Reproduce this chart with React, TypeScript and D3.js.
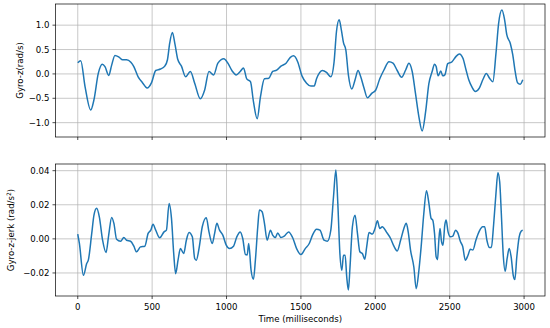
import React from 'react';
import * as d3 from 'd3';

// gyro-z (time in ms, value in rad/s)
const gyroTimes = [0, 20, 49, 87, 109, 138, 165, 183, 208, 228, 250, 279, 301, 328, 357, 377, 406, 435, 466, 496, 524, 556, 585, 603, 618, 636, 654, 672, 697, 725, 757, 786, 824, 853, 882, 913, 942, 982, 1009, 1038, 1065, 1092, 1114, 1136, 1161, 1181, 1206, 1228, 1255, 1284, 1310, 1337, 1366, 1400, 1429, 1451, 1478, 1507, 1538, 1567, 1589, 1605, 1645, 1672, 1701, 1723, 1739, 1757, 1772, 1786, 1802, 1819, 1842, 1864, 1884, 1902, 1924, 1947, 1976, 2003, 2030, 2058, 2092, 2119, 2147, 2177, 2204, 2226, 2248, 2270, 2293, 2315, 2338, 2360, 2382, 2398, 2409, 2422, 2440, 2453, 2467, 2487, 2516, 2543, 2565, 2589, 2610, 2628, 2650, 2672, 2699, 2724, 2746, 2768, 2790, 2811, 2829, 2851, 2869, 2884, 2907, 2924, 2940, 2956, 2974, 2991];
const gyroValues = [0.23, 0.27, -0.26, -0.74, -0.53, 0.01, 0.2, 0.15, -0.03, 0.18, 0.38, 0.34, 0.29, 0.29, 0.24, 0.15, -0.06, -0.18, -0.29, -0.18, 0.07, 0.1, 0.16, 0.29, 0.63, 0.85, 0.6, 0.3, 0.16, -0.06, 0.05, -0.19, -0.51, -0.33, 0.05, -0.02, 0.22, 0.31, 0.22, 0.06, -0.02, 0.05, 0.12, -0.1, -0.16, -0.57, -0.92, -0.47, -0.1, -0.09, 0.05, 0.08, 0.16, 0.22, 0.34, 0.37, 0.25, -0.04, -0.19, -0.25, -0.25, -0.1, 0.07, 0.03, -0.06, 0.25, 0.87, 1.11, 0.9, 0.64, 0.49, -0.02, -0.31, -0.12, 0.07, -0.06, -0.29, -0.49, -0.4, -0.33, -0.1, 0.08, 0.25, 0.22, 0.07, -0.07, 0.08, 0.22, 0.05, -0.4, -0.88, -1.17, -0.78, -0.2, 0.05, 0.2, 0.15, -0.04, 0.06, -0.04, -0.02, 0.21, 0.25, 0.36, 0.41, 0.32, 0.08, -0.12, -0.27, -0.36, -0.29, -0.11, 0.01, -0.09, -0.16, 0.42, 1.04, 1.31, 1.11, 0.8, 0.63, 0.39, 0.05, -0.18, -0.21, -0.12];

// gyro-z jerk (rad/s^2)
const jerkTimes = [0, 11, 38, 60, 71, 94, 109, 127, 145, 167, 190, 208, 228, 243, 261, 288, 310, 328, 355, 377, 395, 422, 451, 473, 491, 506, 524, 551, 580, 596, 614, 630, 645, 658, 674, 690, 712, 730, 748, 770, 786, 797, 815, 837, 864, 882, 904, 920, 935, 953, 975, 998, 1020, 1047, 1069, 1092, 1109, 1127, 1139, 1149, 1165, 1181, 1194, 1210, 1221, 1239, 1255, 1273, 1295, 1310, 1328, 1344, 1366, 1388, 1417, 1444, 1471, 1500, 1529, 1556, 1578, 1605, 1628, 1656, 1678, 1701, 1719, 1735, 1748, 1762, 1775, 1786, 1797, 1808, 1819, 1830, 1846, 1864, 1880, 1896, 1913, 1929, 1942, 1958, 1980, 1998, 2014, 2030, 2047, 2074, 2103, 2125, 2147, 2170, 2192, 2208, 2221, 2237, 2259, 2275, 2293, 2308, 2326, 2344, 2360, 2375, 2386, 2398, 2409, 2418, 2427, 2435, 2445, 2455, 2467, 2476, 2489, 2505, 2521, 2539, 2556, 2572, 2587, 2605, 2623, 2639, 2656, 2676, 2699, 2721, 2735, 2750, 2767, 2780, 2795, 2811, 2824, 2836, 2847, 2860, 2873, 2886, 2900, 2913, 2927, 2938, 2951, 2967, 2980, 2991];
const jerkValues = [0.0028, -0.0027, -0.0214, -0.0145, -0.0125, 0.0032, 0.0139, 0.0179, 0.0129, -0.0008, -0.008, 0.0022, 0.0126, 0.0091, -0.0002, -0.0014, 0.0008, -0.0008, -0.0014, -0.0043, -0.0076, -0.0047, -0.0043, 0.0032, 0.0051, 0.0086, 0.0051, 0.0006, 0.0041, 0.0051, 0.0208, 0.012, -0.0086, -0.0204, -0.0125, -0.0057, -0.0086, -0.0008, 0.0037, 0.0012, -0.0115, -0.0125, -0.0057, 0.0071, 0.0124, 0.0041, -0.0027, 0.0032, 0.0091, 0.0051, 0.0022, -0.0037, -0.0057, -0.0043, 0.0012, 0.0041, 0.0002, -0.0092, -0.0094, -0.0027, -0.0184, -0.0237, -0.0125, 0.0071, 0.0169, 0.0159, 0.0091, -0.0008, 0.0051, 0.0022, 0.0008, 0.0035, 0.0008, 0.0016, 0.0041, 0.0008, -0.0057, -0.0092, -0.0057, -0.0027, 0.0022, 0.0057, 0.0051, -0.0008, -0.0014, 0.0051, 0.0247, 0.0404, 0.0208, -0.0086, -0.0184, -0.0096, -0.0096, -0.0224, -0.03, -0.0165, 0.0071, 0.0139, 0.0032, -0.0076, -0.0086, -0.012, -0.0047, 0.0037, 0.0028, 0.0061, 0.0106, 0.0061, 0.0071, 0.0041, 0.0002, -0.0043, -0.0071, -0.0008, 0.0061, 0.0091, 0.0041, -0.0067, -0.0165, -0.0292, -0.0184, -0.0047, 0.0149, 0.0282, 0.021, 0.012, 0.011, 0.0032, -0.0106, -0.0122, -0.0008, 0.0061, -0.0016, -0.0037, 0.0081, 0.011, 0.0041, 0.0012, 0.0016, 0.0051, 0.0032, -0.0016, -0.0043, -0.0125, -0.0096, -0.0061, -0.0065, -0.0008, 0.0045, 0.0071, 0.0071, -0.0008, -0.0051, -0.0051, 0.0081, 0.0267, 0.0388, 0.0335, 0.0149, -0.0096, -0.019, -0.0115, -0.0057, -0.0106, -0.0214, -0.0239, -0.0106, 0.0012, 0.0045, 0.0051];

const xTicks = [0, 500, 1000, 1500, 2000, 2500, 3000];
const gyroTicks = [-1.0, -0.5, 0.0, 0.5, 1.0];
const jerkTicks = [-0.02, 0.0, 0.02, 0.04];

const W = 550;
const H = 328;
const left = 55.5;
const right = 545;
const FONT = 'DejaVu Sans, sans-serif';
const FS = 8.6;
const BLUE = '#1f77b4';

// matplotlib-style 5% padding
function padded(lo: number, hi: number): [number, number] {
  const r = hi - lo;
  return [lo - 0.05 * r, hi + 0.05 * r];
}

const fmt = (v: number, d: number) => v.toFixed(d).replace('-', '\u2212');

type PanelProps = {
  times: number[];
  values: number[];
  ticks: number[];
  digits: number;
  top: number;
  bottom: number;
  showXLabels: boolean;
};

const x = d3.scaleLinear()
  .domain(padded(d3.min(gyroTimes)!, d3.max(gyroTimes)!))
  .range([left, right]);

function Panel({ times, values, ticks, digits, top, bottom, showXLabels }: PanelProps) {
  const y = d3.scaleLinear()
    .domain(padded(d3.min(values)!, d3.max(values)!))
    .range([bottom, top]);

  const line = d3.line<number>()
    .x((_, i) => x(times[i]))
    .y(d => y(d))
    .curve(d3.curveMonotoneX);

  return (
    <g>
      {/* grid */}
      {xTicks.map(t => (
        <line key={'gx' + t} x1={x(t)} x2={x(t)} y1={top} y2={bottom} stroke="#b0b0b0" strokeWidth={0.7} />
      ))}
      {ticks.map(t => (
        <line key={'gy' + t} x1={left} x2={right} y1={y(t)} y2={y(t)} stroke="#b0b0b0" strokeWidth={0.7} />
      ))}
      <clipPath id={'clip' + top}>
        <rect x={left} y={top} width={right - left} height={bottom - top} />
      </clipPath>
      <path d={line(values) ?? ''} fill="none" stroke={BLUE} strokeWidth={1.5} strokeLinejoin="round" clipPath={`url(#clip${top})`} />
      <rect x={left} y={top} width={right - left} height={bottom - top} fill="none" stroke="#000" strokeWidth={0.7} />
      {/* x ticks */}
      {xTicks.map(t => (
        <g key={'xt' + t}>
          <line x1={x(t)} x2={x(t)} y1={bottom} y2={bottom + 3} stroke="#000" strokeWidth={0.7} />
          {showXLabels && (
            <text x={x(t)} y={bottom + 13.5} textAnchor="middle" fontSize={FS} fontFamily={FONT}>{t}</text>
          )}
        </g>
      ))}
      {/* y ticks */}
      {ticks.map(t => (
        <g key={'yt' + t}>
          <line x1={left - 3} x2={left} y1={y(t)} y2={y(t)} stroke="#000" strokeWidth={0.7} />
          <text x={left - 6} y={y(t)} dy="0.35em" textAnchor="end" fontSize={FS} fontFamily={FONT}>{fmt(t, digits)}</text>
        </g>
      ))}
    </g>
  );
}

export default function App() {
  return (
    <svg width={W} height={H} style={{ display: 'block', background: '#fff' }}>
      <style>{'body{margin:0}'}</style>
      <Panel times={gyroTimes} values={gyroValues} ticks={gyroTicks} digits={1} top={4} bottom={137} showXLabels={false} />
      <Panel times={jerkTimes} values={jerkValues} ticks={jerkTicks} digits={2} top={164} bottom={296} showXLabels={true} />
      <text transform={`translate(23,${(4 + 137) / 2}) rotate(-90)`} textAnchor="middle" fontSize={FS} fontFamily={FONT}>Gyro-z(rad/s)</text>
      <text transform={`translate(13.5,${(164 + 296) / 2}) rotate(-90)`} textAnchor="middle" fontSize={FS} fontFamily={FONT}>
        Gyro-z-jerk (rad/s<tspan dy="-3" fontSize={FS * 0.7}>2</tspan><tspan dy="3">)</tspan>
      </text>
      <text x={(left + right) / 2} y={322} textAnchor="middle" fontSize={FS} fontFamily={FONT}>Time (milliseconds)</text>
    </svg>
  );
}
